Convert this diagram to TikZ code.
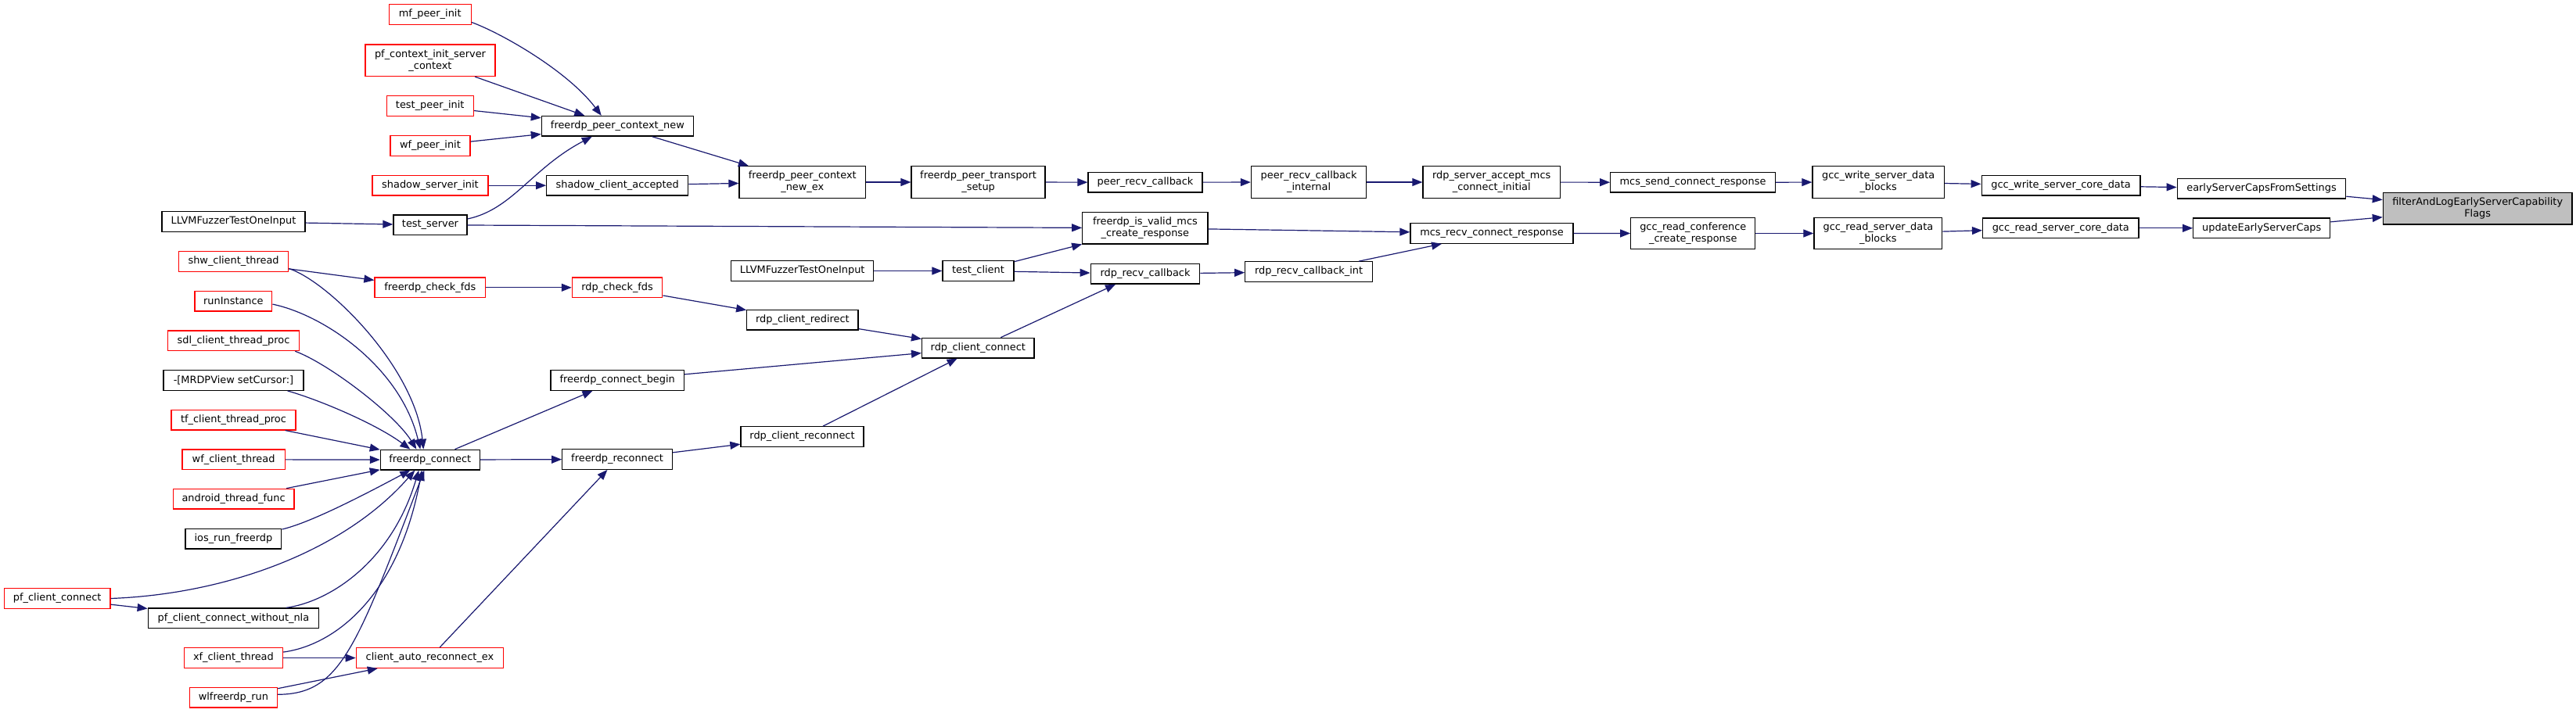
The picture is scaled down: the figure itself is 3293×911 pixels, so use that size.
\documentclass[tikz,border=0pt]{standalone}
\usepackage{fontspec}
\setmainfont{DejaVu Sans}
\usetikzlibrary{arrows.meta}
\definecolor{edgeblue}{HTML}{191970}
\definecolor{graybox}{HTML}{BFBFBF}
\newcommand{\dxfont}{\fontsize{12.9pt}{15pt}\selectfont}
\tikzset{
  fn/.style={draw=black, line width=1.3pt, fill=white, inner sep=2pt, minimum height=25.6pt, align=center, font=\dxfont, text=black},
  two/.style={minimum height=40.5pt},
  trunc/.style={draw=red},
  rootbox/.style={fill=graybox},
  edge/.style={draw=edgeblue, line width=1.2pt, -{Triangle[length=13pt,width=10pt]}},
}
\begin{document}
\begin{tikzpicture}[x=1pt,y=-1pt]
\fill[white] (0,0) rectangle (3293,911);
\useasboundingbox (0,0) rectangle (3293,911);

% ---- nodes ----
\node[fn,trunc,minimum width=105pt] (mf) at (549.7,18.5) {mf\_peer\_init};
\node[fn,trunc,two,minimum width=166pt] (pfctx) at (550,77.2) {pf\_context\_init\_server\\\_context};
\node[fn,trunc,minimum width=111pt] (tpi) at (549.7,135.5) {test\_peer\_init};
\node[fn,trunc,minimum width=102pt] (wfpi) at (550,186.5) {wf\_peer\_init};
\node[fn,trunc,minimum width=148pt] (ssi) at (550,237.2) {shadow\_server\_init};
\node[fn,minimum width=183pt] (llvma) at (298.5,283.5) {LLVMFuzzerTestOneInput};
\node[fn,minimum width=94pt] (tsrv) at (550,287.8) {test\_server};
\node[fn,minimum width=194pt] (fpcn) at (789.4,161.3) {freerdp\_peer\_context\_new};
\node[fn,minimum width=181pt] (sca) at (789.2,237.2) {shadow\_client\_accepted};
\node[fn,two,minimum width=161.5pt] (fpcnex) at (1025.8,233) {freerdp\_peer\_context\\\_new\_ex};
\node[fn,two,minimum width=171pt] (fpts) at (1250.6,233) {freerdp\_peer\_transport\\\_setup};
\node[fn,minimum width=146pt] (prc) at (1464,233.2) {peer\_recv\_callback};
\node[fn,two,minimum width=147.4pt] (prci) at (1673.1,233) {peer\_recv\_callback\\\_internal};
\node[fn,two,minimum width=175.3pt] (rsam) at (1906.7,233) {rdp\_server\_accept\_mcs\\\_connect\_initial};
\node[fn,minimum width=210.5pt] (mscr) at (2164,233.3) {mcs\_send\_connect\_response};
\node[fn,two,minimum width=168.4pt] (gwsdb) at (2401.2,233) {gcc\_write\_server\_data\\\_blocks};
\node[fn,minimum width=202.8pt] (gwscd) at (2634.6,237.2) {gcc\_write\_server\_core\_data};
\node[fn,minimum width=215.6pt] (escfs) at (2891,241.2) {earlyServerCapsFromSettings};
\node[fn,rootbox,two,minimum width=241.6pt] (root) at (3167.2,266.8) {filterAndLogEarlyServerCapability\\Flags};
\node[fn,minimum width=175pt] (uesc) at (2891.2,291.8) {updateEarlyServerCaps};
\node[fn,minimum width=199.5pt] (grscd) at (2634.3,291.8) {gcc\_read\_server\_core\_data};
\node[fn,two,minimum width=163.8pt] (grsdb) at (2400.9,298.5) {gcc\_read\_server\_data\\\_blocks};
\node[fn,two,minimum width=159pt] (grccr) at (2164.3,298.5) {gcc\_read\_conference\\\_create\_response};
\node[fn,minimum width=208pt] (mrcr) at (1907,298.4) {mcs\_recv\_connect\_response};
\node[fn,two,minimum width=160.2pt] (fivm) at (1463.9,291.7) {freerdp\_is\_valid\_mcs\\\_create\_response};
\node[fn,minimum width=182pt] (llvmb) at (1025.7,346.5) {LLVMFuzzerTestOneInput};
\node[fn,minimum width=91pt] (tcl) at (1250.5,346.5) {test\_client};
\node[fn,minimum width=139.5pt] (rrc) at (1464,350.3) {rdp\_recv\_callback};
\node[fn,minimum width=162.6pt] (rrci) at (1673.1,347.6) {rdp\_recv\_callback\_int};
\node[fn,trunc,minimum width=115.4pt] (rcf) at (789.1,367.8) {rdp\_check\_fds};
\node[fn,trunc,minimum width=141.6pt] (fcf) at (549.8,367.8) {freerdp\_check\_fds};
\node[fn,minimum width=142.3pt] (rcr) at (1025.9,409.1) {rdp\_client\_redirect};
\node[fn,minimum width=143.4pt] (rcc) at (1250.3,445.1) {rdp\_client\_connect};
\node[fn,minimum width=170.4pt] (fcb) at (789.2,486.5) {freerdp\_connect\_begin};
\node[fn,minimum width=157pt] (rcrc) at (1025.5,558.5) {rdp\_client\_reconnect};
\node[fn,minimum width=140.6pt] (frc) at (789.1,587.5) {freerdp\_reconnect};
\node[fn,minimum width=126.8pt] (fc) at (549.8,588.1) {freerdp\_connect};
\node[fn,trunc,minimum width=140pt] (shw) at (298.6,334.5) {shw\_client\_thread};
\node[fn,trunc,minimum width=98.8pt] (runi) at (298.4,385.1) {runInstance};
\node[fn,trunc,minimum width=168.3pt] (sdl) at (298.5,435.8) {sdl\_client\_thread\_proc};
\node[fn,minimum width=179pt] (mrdp) at (298.5,486.5) {-[MRDPView setCursor:]};
\node[fn,trunc,minimum width=159pt] (tf) at (298.5,537.1) {tf\_client\_thread\_proc};
\node[fn,trunc,minimum width=131.3pt] (wfct) at (298.6,587.8) {wf\_client\_thread};
\node[fn,trunc,minimum width=154.5pt] (andr) at (298.6,638.1) {android\_thread\_func};
\node[fn,minimum width=122.8pt] (ios) at (298.4,689.1) {ios\_run\_freerdp};
\node[fn,trunc,minimum width=135.6pt] (pfcc) at (73.2,765.5) {pf\_client\_connect};
\node[fn,minimum width=218.3pt] (pfnla) at (298.4,790.8) {pf\_client\_connect\_without\_nla};
\node[fn,trunc,minimum width=126.3pt] (xf) at (298.4,841.5) {xf\_client\_thread};
\node[fn,trunc,minimum width=188.3pt] (care) at (549.5,841.5) {client\_auto\_reconnect\_ex};
\node[fn,trunc,minimum width=112pt] (wl) at (298.4,892.1) {wlfreerdp\_run};

% ---- edges ----
\draw[edge] ([yshift=-10pt]mf.east) .. controls (640,42) and (725,90) .. ([xshift=77pt]fpcn.north west);
\draw[edge] ([xshift=140.7pt]pfctx.south west) -- ([xshift=55.5pt]fpcn.north west);
\draw[edge] (tpi) -- (fpcn);
\draw[edge] (wfpi) -- (fpcn);
\draw[edge] ([yshift=7.8pt]tsrv.east) .. controls (655,268) and (680,215) .. ([xshift=65pt]fpcn.south west);
\draw[edge] (ssi) -- (sca);
\draw[edge] (llvma) -- (tsrv);
\draw[edge] (tsrv) -- (fivm);
\draw[edge] (fpcn) -- (fpcnex);
\draw[edge] (sca) -- (fpcnex);
\draw[edge] (fpcnex) -- (fpts);
\draw[edge] (fpts) -- (prc);
\draw[edge] (prc) -- (prci);
\draw[edge] (prci) -- (rsam);
\draw[edge] (rsam) -- (mscr);
\draw[edge] (mscr) -- (gwsdb);
\draw[edge] (gwsdb) -- (gwscd);
\draw[edge] (gwscd) -- (escfs);
\draw[edge] (escfs) -- (root);
\draw[edge] (uesc) -- (root);
\draw[edge] (grscd) -- (uesc);
\draw[edge] (grsdb) -- (grscd);
\draw[edge] (grccr) -- (grsdb);
\draw[edge] (mrcr) -- (grccr);
\draw[edge] (fivm) -- (mrcr);
\draw[edge] (rrci) -- (mrcr);
\draw[edge] (rrc) -- (rrci);
\draw[edge] (tcl) -- (fivm);
\draw[edge] (tcl) -- (rrc);
\draw[edge] (llvmb) -- (tcl);
\draw[edge] (rcc) -- ([xshift=32.4pt]rrc.south west);
\draw[edge] (rcr) -- (rcc);
\draw[edge] (fcb) -- (rcc);
\draw[edge] (rcrc) -- (rcc);
\draw[edge] (rcf) -- (rcr);
\draw[edge] (fcf) -- (rcf);
\draw[edge] (frc) -- (rcrc);
\draw[edge] (fc) -- (fcb);
\draw[edge] (fc) -- (frc);
\draw[edge] (care) -- (frc);
\draw[edge] (shw) -- (fcf);
\draw[edge] ([yshift=-9pt]shw.east) .. controls (420,360) and (530,470) .. ([xshift=55.6pt]fc.north west);
\draw[edge] ([yshift=-4pt]runi.east) .. controls (415,403) and (512,470) .. ([xshift=51.6pt]fc.north west);
\draw[edge] ([xshift=-6pt]sdl.south east) .. controls (420,465) and (505,530) .. ([xshift=46.6pt]fc.north west);
\draw[edge] ([xshift=-21pt]mrdp.south east) .. controls (410,512) and (482,543) .. ([xshift=38.6pt]fc.north west);
\draw[edge] (tf) -- (fc);
\draw[edge] (wfct) -- (fc);
\draw[edge] (andr) -- (fc);
\draw[edge] ([yshift=-1.4pt]ios.north east) .. controls (400,668) and (480,625) .. ([xshift=38.6pt]fc.south west);
\draw[edge] (pfcc.east) .. controls (290,760) and (440,705) .. ([xshift=44.6pt]fc.south west);
\draw[edge] (pfcc) -- (pfnla);
\draw[edge] ([xshift=-42.4pt]pfnla.north east) .. controls (420,770) and (500,720) .. ([xshift=49.6pt]fc.south west);
\draw[edge] ([yshift=-6pt]xf.north east) .. controls (430,825) and (510,760) .. ([xshift=53.6pt]fc.south west);
\draw[edge] (xf) -- (care);
\draw[edge] ([yshift=3.8pt]wl.east) .. controls (435,888) and (455,830) .. ([xshift=56.6pt]fc.south west);
\draw[edge] (wl) -- (care);
\end{tikzpicture}
\end{document}
